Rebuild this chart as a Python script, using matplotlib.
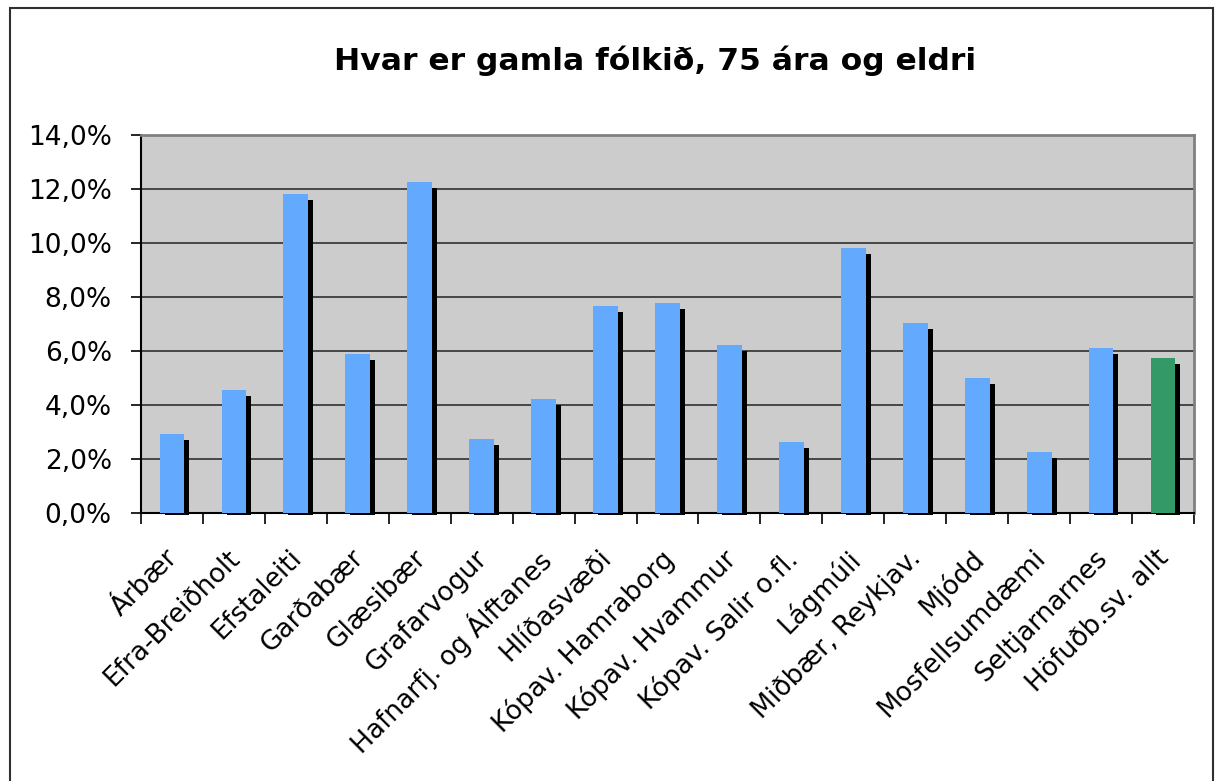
import matplotlib
matplotlib.use("Agg")
import matplotlib.pyplot as plt
import matplotlib.transforms as mtransforms
from matplotlib.patches import Rectangle
from matplotlib.ticker import FixedLocator, FuncFormatter

categories = ["Árbær", "Efra-Breiðholt", "Efstaleiti", "Garðabær", "Glæsibær",
              "Grafarvogur", "Hafnarfj. og Álftanes", "Hlíðasvæði", "Kópav. Hamraborg",
              "Kópav. Hvammur", "Kópav. Salir o.fl.", "Lágmúli", "Miðbær, Reykjav.",
              "Mjódd", "Mosfellsumdæmi", "Seltjarnarnes", "Höfuðb.sv. allt"]
values = [2.92, 4.55, 11.8, 5.9, 12.25,
          2.74, 4.22, 7.67, 7.79,
          6.21, 2.62, 9.8, 7.02,
          5.0, 2.26, 6.11, 5.74]
bar_colors = ["#63AAFF"] * 16 + ["#339966"]
yticks = [0, 2, 4, 6, 8, 10, 12, 14]
title = "Hvar er gamla fólkið, 75 ára og eldri"

fig = plt.figure(figsize=(12.16, 7.81), dpi=100)
fig.patch.set_facecolor("white")
ax = fig.add_axes([141/1216, 1-513/781, (1194-141)/1216, (513-135)/781])
ax.set_facecolor("#CCCCCC")

x = list(range(len(categories)))
shadow_bottom = 0.13
shadow = ax.bar(x, [v - shadow_bottom for v in values], bottom=shadow_bottom,
                width=0.4, color="black", zorder=2)
off = mtransforms.ScaledTranslation(5/100, -6/100, fig.dpi_scale_trans)
for p in shadow.patches:
    p.set_transform(ax.transData + off)
    p.set_clip_on(False)
ax.bar(x, values, width=0.4, color=bar_colors, zorder=3)

ax.set_xlim(-0.5, len(categories) - 0.5)
ax.set_ylim(0, 14)
ax.yaxis.set_major_locator(FixedLocator(yticks))
ax.yaxis.set_major_formatter(FuncFormatter(lambda v, p: f"{v:.1f}%".replace(".", ",")))
ax.yaxis.grid(True, color="#222222", linewidth=1.1, zorder=1)
ax.set_axisbelow(True)
ax.tick_params(axis="y", direction="out", length=7, width=1.2, color="black",
               labelsize=19, pad=14)

ax.set_xticks(x)
ax.set_xticklabels(categories, rotation=45, ha="right", rotation_mode="anchor", fontsize=19)
ax.set_xticks([i - 0.5 for i in range(len(categories) + 1)], minor=True)
ax.tick_params(axis="x", which="major", length=0, pad=23)
ax.tick_params(axis="x", which="minor", direction="out", length=8, width=1.2, color="black")
lab_off = mtransforms.ScaledTranslation(-7/100, 0, fig.dpi_scale_trans)
for lab in ax.get_xticklabels():
    lab.set_transform(lab.get_transform() + lab_off)

ax.spines["left"].set_color("black")
ax.spines["bottom"].set_color("black")
ax.spines["left"].set_linewidth(1.5)
ax.spines["bottom"].set_linewidth(1.5)
ax.spines["top"].set_color("#808080")
ax.spines["right"].set_color("#808080")
ax.spines["top"].set_linewidth(2)
ax.spines["right"].set_linewidth(2)

fig.text(655.5/1216, 1-69.5/781, title, ha="center", va="baseline", fontsize=22.6,
         fontweight="bold", family="DejaVu Sans")

border = Rectangle((10/1216, -0.01), (1213-10)/1216, 1-8/781+0.01, transform=fig.transFigure,
                   fill=False, edgecolor="#303030", linewidth=1.5)
fig.patches.append(border)

fig.savefig("out.png", dpi=100)
